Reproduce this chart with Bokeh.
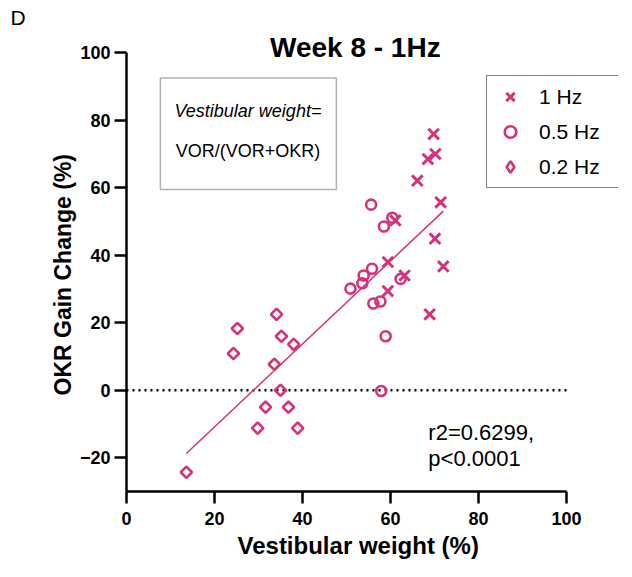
import numpy as np
from bokeh.plotting import figure
from bokeh.models import (Range1d, FixedTicker, Label, BoxAnnotation, Legend, LegendItem, Title)
from bokeh.embed import file_html
from bokeh.resources import INLINE

# ---- data ----
hz1_x = [69.8, 70.2, 68.5, 66.1, 71.4, 61.1, 70.1, 59.4, 72.0, 63.2, 59.4, 68.9]
hz1_y = [75.9, 70.0, 68.5, 62.1, 55.7, 50.3, 44.9, 38.0, 36.7, 34.0, 29.4, 22.5]
hz05_x = [55.6, 60.4, 58.5, 50.9, 53.6, 53.9, 55.8, 56.1, 57.7, 62.3, 58.9, 57.9]
hz05_y = [55.0, 51.1, 48.5, 30.1, 31.7, 34.0, 36.0, 25.7, 26.3, 33.0, 16.0, -0.2]
hz02_x = [13.6, 25.2, 24.3, 34.1, 35.2, 38.0, 33.6, 35.0, 31.6, 36.8, 29.8, 38.9]
hz02_y = [-24.3, 18.3, 10.9, 22.5, 16.0, 13.6, 7.7, 0.0, -5.0, -5.0, -11.2, -11.2]
series_labels = ["1 Hz", "0.5 Hz", "0.2 Hz"]
x_ticks = [0, 20, 40, 60, 80, 100]
y_ticks = [-20, 0, 20, 40, 60, 80, 100]
x_axis_span = (0, 100)
y_axis_span = (-30, 100)
stats_lines = ["r2=0.6299,", "p<0.0001"]

COLOR = "#D6317C"
FONT = "Liberation Sans"

W, H = 630, 575
LEFT, TOP, BOTTOM, RIGHT = 126, 28, 84, 12
PX_X = 4.4      # pixels per x unit
PX_Y = 3.375    # pixels per y unit
frame_w = W - LEFT - RIGHT
frame_h = H - TOP - BOTTOM

p = figure(width=W, height=H, output_backend="svg", toolbar_location=None,
           x_range=Range1d(x_axis_span[0], x_axis_span[0] + frame_w / PX_X),
           y_range=Range1d(y_axis_span[0], y_axis_span[0] + frame_h / PX_Y),
           min_border_left=LEFT, min_border_right=RIGHT, min_border_top=TOP, min_border_bottom=BOTTOM)
p.outline_line_color = None
p.xgrid.visible = False
p.ygrid.visible = False
p.background_fill_color = "white"
p.border_fill_color = "white"
# a range far off-screen, used only so a legend swatch renderer has data but draws nothing visible
p.extra_y_ranges = {"legend_only": Range1d(1e6, 1e6 + 1)}

for ax in (p.xaxis[0], p.yaxis[0]):
    ax.axis_line_width = 2.5
    ax.major_tick_line_width = 2.5
    ax.major_tick_out = 12
    ax.major_tick_in = 0
    ax.minor_tick_line_color = None
    ax.major_label_text_font = FONT
    ax.major_label_text_font_style = "bold"
    ax.major_label_text_font_size = "18px"
    ax.major_label_text_color = "black"
    ax.axis_line_color = "black"
    ax.major_tick_line_color = "black"

p.xaxis.bounds = x_axis_span
p.yaxis.bounds = y_axis_span
p.xaxis.ticker = FixedTicker(ticks=x_ticks)
p.yaxis.ticker = FixedTicker(ticks=y_ticks)
p.xaxis.major_label_standoff = 8
p.yaxis.major_label_standoff = 4

# axis titles as offset titles (placed relative to the drawn axis, not the wider frame)
p.add_layout(Title(text="Vestibular weight (%)", align="left", offset=111, standoff=4,
                   text_font=FONT, text_font_style="bold", text_font_size="24px",
                   text_color="black"), "below")
p.add_layout(Title(text="OKR Gain Change (%)", align="left", offset=96, standoff=2,
                   text_font=FONT, text_font_style="bold", text_font_size="23px",
                   text_color="black"), "left")

# panel letter as the figure title
p.title.text = "D"
p.title.align = "left"
p.title.offset = -116
p.title.standoff = 0
p.title.text_font = FONT
p.title.text_font_style = "normal"
p.title.text_font_size = "21px"
p.title.text_color = "black"

# zero reference line
p.line([x_ticks[0], x_ticks[-1]], [0, 0], line_color="black", line_width=2.5, line_dash="2 4")

# regression line
all_x = np.array(hz1_x + hz05_x + hz02_x)
all_y = np.array(hz1_y + hz05_y + hz02_y)
slope, intercept = np.polyfit(all_x, all_y, 1)
fx = np.array([all_x.min(), all_x.max()])
p.line(fx, slope * fx + intercept, line_color=COLOR, line_width=1.5)

r1 = p.scatter(hz1_x, hz1_y, marker="x", size=15, line_color=COLOR, line_width=3)
r2 = p.scatter(hz05_x, hz05_y, marker="circle", size=10, line_color=COLOR, line_width=2.6, fill_alpha=0)
r3 = p.scatter(hz02_x, hz02_y, marker="square", angle=np.pi / 4, size=8, line_color=COLOR,
               line_width=2.6, fill_alpha=0)
# legend swatch for the diamond series (legend swatches ignore marker rotation)
r3_key = p.scatter(hz02_x, hz02_y, y_range_name="legend_only", marker="diamond", size=10,
                   line_color=COLOR, line_width=2.6, fill_alpha=0)

legend = Legend(items=[LegendItem(label=series_labels[0], renderers=[r1]),
                       LegendItem(label=series_labels[1], renderers=[r2]),
                       LegendItem(label=series_labels[2], renderers=[r3_key])],
                location=(360, 303))
legend.border_line_color = "black"
legend.border_line_width = 1.5
legend.background_fill_alpha = 1
legend.label_text_font = FONT
legend.label_text_font_size = "21px"
legend.label_text_color = "black"
legend.glyph_width = 34
legend.glyph_height = 29
legend.spacing = 6
legend.padding = 6
legend.margin = 0
legend.label_standoff = 12
legend.label_width = 74
p.add_layout(legend)

# formula box
p.add_layout(BoxAnnotation(left=7.7, right=47.7, bottom=59.5, top=92.5, fill_alpha=0,
                           line_color="black", line_width=1.5))
p.add_layout(Label(x=27.6, y=82.8, text="Vestibular weight=", text_font=FONT, text_font_style="italic",
                   text_font_size="18px", text_align="center", text_baseline="middle",
                   text_color="black"))
p.add_layout(Label(x=27.6, y=71.0, text="VOR/(VOR+OKR)", text_font=FONT,
                   text_font_size="18px", text_align="center", text_baseline="middle",
                   text_color="black"))

# stats
p.add_layout(Label(x=68.6, y=-12.6, text=stats_lines[0], text_font=FONT, text_font_size="22px",
                   text_align="left", text_baseline="middle", text_color="black"))
p.add_layout(Label(x=68.6, y=-20.3, text=stats_lines[1], text_font=FONT, text_font_size="22px",
                   text_align="left", text_baseline="middle", text_color="black"))

# chart title
p.add_layout(Label(x=52, y=101.5, text="Week 8 - 1Hz", text_font=FONT, text_font_style="bold",
                   text_font_size="28px", text_align="center", text_baseline="middle",
                   text_color="black"))

open("out.html", "w").write(file_html(p, INLINE))
